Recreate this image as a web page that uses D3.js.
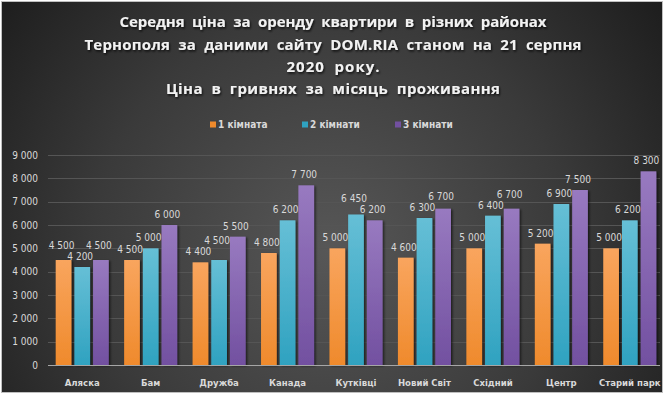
<!DOCTYPE html>
<html>
<head>
<meta charset="utf-8">
<script src="https://cdnjs.cloudflare.com/ajax/libs/d3/7.8.5/d3.min.js"></script>
<style>
  body { margin: 0; background: #ffffff; }
  text { font-family: "DejaVu Sans", sans-serif; font-stretch: condensed; }
  .title { font-family: "Open Sans", "DejaVu Sans", sans-serif; font-stretch: normal; }
</style>
</head>
<body>
<div id="chart"></div>
<script>
var categories = ['Аляска', 'Бам', 'Дружба', 'Канада', 'Кутківці', 'Новий Світ', 'Східний', 'Центр', 'Старий парк'];
var series_names = ['1 кімната', '2 кімнати', '3 кімнати'];
var one_room = [4500, 4500, 4400, 4800, 5000, 4600, 5000, 5200, 5000];
var two_rooms = [4200, 5000, 4500, 6200, 6450, 6300, 6400, 6900, 6200];
var three_rooms = [4500, 6000, 5500, 7700, 6200, 6700, 6700, 7500, 8300];
var y_ticks = [0, 1000, 2000, 3000, 4000, 5000, 6000, 7000, 8000, 9000];
var title_lines = [
	'Середня  ціна  за  оренду  квартири  в  різних  районах',
	'Тернополя  за  даними  сайту  DOM.RIA  станом  на  21  серпня',
	'2020  року.',
	'Ціна  в  гривнях  за  місяць  проживання'
];

var chart_width = 665;
var chart_height = 395;
var colors = [
	['#f9a55e', '#ef8a2c'],
	['#66bfd6', '#2fa2c0'],
	['#987ac0', '#7250a0']
];

var data = categories.map(function(c, i){
	return { cat: c, vals: [one_room[i], two_rooms[i], three_rooms[i]] };
});

var fmt = function(v){
	return d3.format(',')(v).replace(/,/g, ' ');
};

var svg = d3.select('#chart')
	.append('svg')
	.attr('width', chart_width)
	.attr('height', chart_height);

var defs = svg.append('defs');

var bg = defs.append('radialGradient')
	.attr('id', 'bg')
	.attr('gradientUnits', 'userSpaceOnUse')
	.attr('cx', 330).attr('cy', 250).attr('r', 430);
bg.append('stop').attr('offset', '0%').attr('stop-color', '#575757');
bg.append('stop').attr('offset', '55%').attr('stop-color', '#3a3a3a');
bg.append('stop').attr('offset', '100%').attr('stop-color', '#1b1b1b');

colors.forEach(function(c, i){
	var g = defs.append('linearGradient')
		.attr('id', 'bar' + i)
		.attr('x1', 0).attr('y1', 0).attr('x2', 0).attr('y2', 1);
	g.append('stop').attr('offset', '0%').attr('stop-color', c[0]);
	g.append('stop').attr('offset', '100%').attr('stop-color', c[1]);
});

var shadow = defs.append('filter').attr('id', 'shadow')
	.attr('x', '-20%').attr('y', '-20%').attr('width', '150%').attr('height', '150%');
shadow.append('feDropShadow')
	.attr('dx', 1.5).attr('dy', 1).attr('stdDeviation', 1.2)
	.attr('flood-color', '#000').attr('flood-opacity', 0.6);

// background
svg.append('rect')
	.attr('x', 1.5).attr('y', 1.5)
	.attr('width', chart_width - 4).attr('height', chart_height - 4)
	.attr('fill', 'url(#bg)')
	.attr('stroke', '#bfbfbf')
	.attr('stroke-width', 1);

// scales
var x_scale = d3.scaleBand()
	.domain(categories)
	.range([48, 664])
	.paddingInner(0.225)
	.paddingOuter(0.1125);

var x_inner = d3.scaleBand()
	.domain([0, 1, 2])
	.range([0, x_scale.bandwidth()])
	.paddingInner(0.16);

var y_scale = d3.scaleLinear()
	.domain([0, 9000])
	.range([365, 155]);

// grid lines
svg.append('g')
	.selectAll('line')
	.data(y_ticks.slice(1))
	.enter()
	.append('line')
	.attr('x1', 48).attr('x2', 660)
	.attr('y1', function(d){ return Math.round(y_scale(d)) + 0.5; })
	.attr('y2', function(d){ return Math.round(y_scale(d)) + 0.5; })
	.attr('stroke', '#555555')
	.attr('stroke-width', 1);

// y axis
var y_axis = d3.axisLeft(y_scale)
	.tickValues(y_ticks)
	.tickSize(0)
	.tickPadding(0)
	.tickFormat(fmt);

svg.append('g')
	.attr('class', 'y-axis')
	.attr('transform', 'translate(38,0)')
	.call(y_axis)
	.call(function(g){ g.select('.domain').remove(); })
	.selectAll('text')
	.attr('fill', '#d9d9d9')
	.attr('font-family', null)
	.attr('font-size', 10);

// bars
var groups = svg.append('g')
	.selectAll('g')
	.data(data)
	.enter()
	.append('g')
	.attr('transform', function(d){ return 'translate(' + x_scale(d.cat) + ',0)'; });

groups.selectAll('rect')
	.data(function(d){ return d.vals; })
	.enter()
	.append('rect')
	.attr('x', function(d, i){ return x_inner(i); })
	.attr('y', function(d){ return y_scale(d); })
	.attr('width', x_inner.bandwidth())
	.attr('height', function(d){ return y_scale(0) - y_scale(d); })
	.attr('fill', function(d, i){ return 'url(#bar' + i + ')'; })
	.attr('filter', 'url(#shadow)');

// value labels
groups.each(function(){
	var g = d3.select(this);
	var labels = g.selectAll('text.val')
		.data(function(d){ return d.vals; })
		.enter()
		.append('text')
		.attr('class', 'val')
		.text(function(d){ return fmt(d); })
		.attr('x', function(d, i){ return x_inner(i) + x_inner.bandwidth() / 2 - 2; })
		.attr('y', function(d){ return y_scale(d) - 7; })
		.attr('text-anchor', 'middle')
		.attr('fill', '#d9d9d9')
		.attr('font-size', 10);

	// lift the higher of two neighbouring labels when they collide
	var nodes = labels.nodes();
	for (var i = 1; i < nodes.length; i++) {
		var a = nodes[i - 1].getBBox();
		var b = nodes[i].getBBox();
		var overlap_x = a.x + a.width > b.x && b.x + b.width > a.x;
		var overlap_y = a.y + a.height > b.y && b.y + b.height > a.y;
		if (overlap_x && overlap_y) {
			var va = d3.select(nodes[i - 1]).datum();
			var vb = d3.select(nodes[i]).datum();
			if (vb >= va) {
				d3.select(nodes[i]).attr('y', a.y - 2);
			} else {
				d3.select(nodes[i - 1]).attr('y', b.y - 2);
			}
		}
	}
});

// x axis line
svg.append('line')
	.attr('x1', 48).attr('x2', 660)
	.attr('y1', 365.5).attr('y2', 365.5)
	.attr('stroke', '#a6a6a6')
	.attr('stroke-width', 1);

// category labels
svg.append('g')
	.selectAll('text')
	.data(categories)
	.enter()
	.append('text')
	.text(function(d){ return d; })
	.attr('x', function(d){ return x_scale(d) + x_scale.bandwidth() / 2; })
	.attr('y', 386)
	.attr('text-anchor', 'middle')
	.attr('fill', '#d9d9d9')
	.attr('font-size', 9.5)
	.attr('font-weight', 'bold');

// legend
var legend_x = [210, 302, 395];
var legend = svg.append('g')
	.selectAll('g')
	.data(series_names)
	.enter()
	.append('g')
	.attr('transform', function(d, i){ return 'translate(' + legend_x[i] + ',125)'; });

legend.append('rect')
	.attr('x', 0).attr('y', -3.5)
	.attr('width', 6).attr('height', 6)
	.attr('fill', function(d, i){ return colors[i][1]; });

legend.append('text')
	.text(function(d){ return d; })
	.attr('x', 8)
	.attr('y', 3)
	.attr('fill', '#d9d9d9')
	.attr('font-size', 10)
	.attr('font-weight', 'bold');

// title
var title_y = [27, 50, 72, 94];
var title_len = [427, 497, 93, 334];
var tshadow = defs.append('filter').attr('id', 'tshadow');
tshadow.append('feDropShadow')
	.attr('dx', 1).attr('dy', 1.5).attr('stdDeviation', 1.2)
	.attr('flood-color', '#000').attr('flood-opacity', 0.8);

svg.append('g')
	.selectAll('text')
	.data(title_lines)
	.enter()
	.append('text')
	.attr('class', 'title')
	.attr('xml:space', 'preserve')
	.style('white-space', 'pre')
	.text(function(d){ return d; })
	.attr('x', 333)
	.attr('y', function(d, i){ return title_y[i]; })
	.attr('text-anchor', 'middle')
	.attr('textLength', function(d, i){ return title_len[i]; })
	.attr('lengthAdjust', 'spacing')
	.attr('fill', '#f2f2f2')
	.attr('font-size', 15)
	.attr('font-weight', 'bold')
	.attr('filter', 'url(#tshadow)');
</script>
</body>
</html>
